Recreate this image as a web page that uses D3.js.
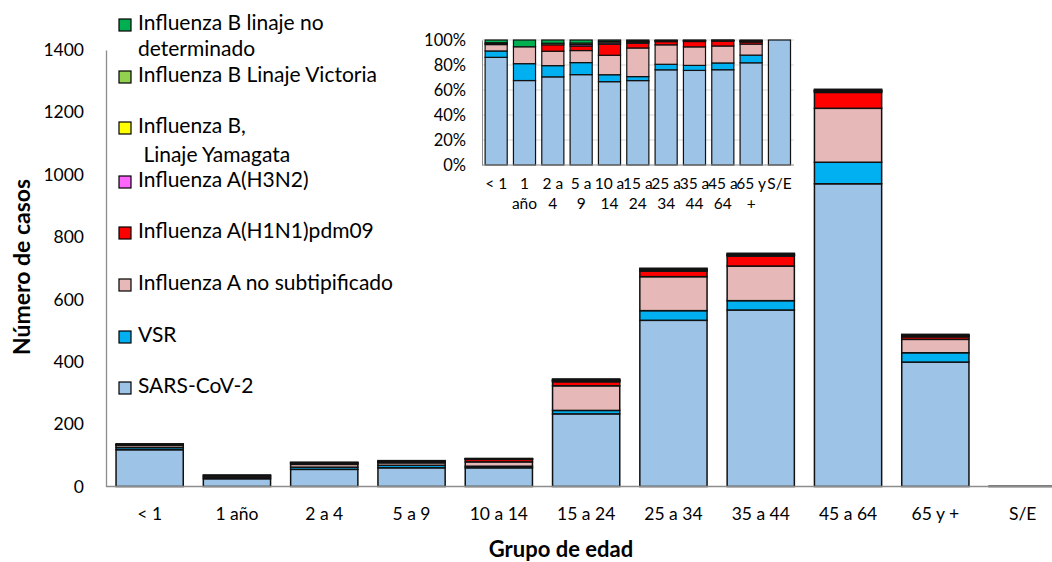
<!DOCTYPE html>
<html><head><meta charset="utf-8">
<script src="https://cdn.jsdelivr.net/npm/d3@7"></script>
<style>body{margin:0;background:#fff}svg{display:block}text{font-family:Lato,"Open Sans",sans-serif;fill:#000}</style>
</head><body><svg id="c" width="1052" height="562"></svg>
<script>
const categories = ["< 1","1 año","2 a 4","5 a 9","10 a 14","15 a 24","25 a 34","35 a 44","45 a 64","65 y +","S/E"];
const insetTickLabels = [["< 1"],["1","año"],["2 a","4"],["5 a","9"],["10 a","14"],["15 a","24"],["25 a","34"],["35 a","44"],["45 a","64"],["65 y","+"],["S/E"]];
const seriesKeys = ["sars","vsr","fluANS","h1n1","h3n2","bYam","bVic","bND"];
const seriesNames = ["SARS-CoV-2","VSR","Influenza A no subtipificado","Influenza A(H1N1)pdm09","Influenza A(H3N2)","Influenza B, Linaje Yamagata","Influenza B Linaje Victoria","Influenza B linaje no determinado"];
const seriesColors = ["#9DC3E6","#00B0F0","#E6B8B7","#FF0000","#FF66FF","#FFFF00","#92D050","#00B050"];
const sars   = [118, 25, 55, 60, 60, 233, 533, 566, 971, 399, 1];
const vsr    = [7, 5, 7, 8, 5, 11, 31, 30, 69, 30, 0];
const fluANS = [7, 5, 9, 8, 14, 79, 109, 111, 173, 43, 0];
const h1n1   = [0, 0, 4, 3, 8, 13, 18, 32, 51, 8, 0];
const h3n2   = [1, 0, 0, 1, 1, 3, 3, 3, 3, 2, 0];
const bYam   = [0, 0, 0, 0, 0, 1, 1, 1, 2, 1, 0];
const bVic   = [1, 0, 1, 1, 1, 2, 2, 2, 2, 2, 0];
const bND    = [3, 2, 2, 2, 1, 3, 3, 3, 3, 3, 0];
const yTicks = [0,200,400,600,800,1000,1200,1400];
const insetTicks = [0,0.2,0.4,0.6,0.8,1];
const legendLines = [
  {key:"bND", lines:["Influenza B linaje no","determinado"]},
  {key:"bVic", lines:["Influenza B Linaje Victoria"]},
  {key:"bYam", lines:["Influenza B,"," Linaje Yamagata"]},
  {key:"h3n2", lines:["Influenza A(H3N2)"]},
  {key:"h1n1", lines:["Influenza A(H1N1)pdm09"]},
  {key:"fluANS", lines:["Influenza A no subtipificado"]},
  {key:"vsr", lines:["VSR"]},
  {key:"sars", lines:["SARS-CoV-2"]}
];

const valuesByKey = {sars, vsr, fluANS, h1n1, h3n2, bYam, bVic, bND};
const rows = categories.map((c,i)=>{const r={cat:c}; seriesKeys.forEach(k=>r[k]=valuesByKey[k][i]); return r;});
const color = d3.scaleOrdinal().domain(seriesKeys).range(seriesColors);

const svg = d3.select("#c");

// ---- Main chart ----
const x = d3.scaleBand().domain(categories).range([106, 106+11*87.3]).paddingInner(0.23).paddingOuter(0.115);
const y = d3.scaleLinear().domain([0,1400]).range([486.5, 50]);
const stack = d3.stack().keys(seriesKeys)(rows);

const main = svg.append("g");
main.selectAll("g.s").data(stack).join("g").attr("fill", d=>color(d.key))
  .selectAll("rect").data(d=>d).join("rect")
  .attr("x", d=>x(d.data.cat)).attr("width", x.bandwidth())
  .attr("y", d=>y(d[1])).attr("height", d=>Math.max(0,y(d[0])-y(d[1])))
  .attr("stroke","#111").attr("stroke-width",1.5);

const yAxis = main.append("g").attr("transform","translate(106,0)")
  .call(d3.axisLeft(y).tickValues(yTicks).tickSize(0).tickPadding(22).tickFormat(d3.format("d")));
yAxis.select(".domain").attr("stroke","#8c8c8c").attr("stroke-width",1.3);
yAxis.selectAll("text").attr("font-size",17.5).attr("font-family","Lato");

const xAxis = main.append("g").attr("transform","translate(0,486.5)")
  .call(d3.axisBottom(x).tickSize(0).tickPadding(21));
xAxis.select(".domain").attr("d","M106,0H1052").attr("stroke","#8c8c8c").attr("stroke-width",1.3);
xAxis.selectAll("text").attr("font-size",17.5).attr("font-family","Lato");

svg.append("text").attr("transform","translate(24,267) rotate(-90)").attr("text-anchor","middle")
  .attr("dominant-baseline","middle").attr("font-weight","bold").attr("font-size",23).text("Número de casos");
svg.append("text").attr("x",561).attr("y",551).attr("text-anchor","middle")
  .attr("dominant-baseline","middle").attr("font-weight","bold").attr("font-size",22).text("Grupo de edad");

// ---- Legend ----
const legendY = [25,77,128,182,233,285,337,388];
const lg = svg.append("g");
legendLines.forEach((e,i)=>{
  const g = lg.append("g").attr("transform",`translate(0,${legendY[i]})`);
  g.append("rect").attr("x",119).attr("y",-6).attr("width",12).attr("height",12)
    .attr("fill",color(e.key)).attr("stroke","#000").attr("stroke-width",1.2);
  e.lines.forEach((t,j)=>{
    g.append("text").attr("x",138).attr("y", j*(i===0?26:29)).attr("dominant-baseline","middle")
      .attr("font-size",21).style("white-space","pre").text(t);
  });
});

// ---- Inset (100% stacked) ----
const ix = d3.scaleBand().domain(categories).range([482, 482+11*28.33]).paddingInner(0.22).paddingOuter(0.11);
const iy = d3.scaleLinear().domain([0,1]).range([165, 40]);
const istack = d3.stack().keys(seriesKeys).offset(d3.stackOffsetExpand)(rows);
const inset = svg.append("g");
inset.append("g").selectAll("line").data(insetTicks.slice(1)).join("line")
  .attr("x1",482).attr("x2",794).attr("y1",d=>iy(d)).attr("y2",d=>iy(d))
  .attr("stroke","#d9d9d9").attr("stroke-width",1);
inset.selectAll("g.s").data(istack).join("g").attr("fill", d=>color(d.key))
  .selectAll("rect").data(d=>d).join("rect")
  .attr("x", d=>ix(d.data.cat)).attr("width", ix.bandwidth())
  .attr("y", d=>iy(d[1])).attr("height", d=>Math.max(0,iy(d[0])-iy(d[1])))
  .attr("stroke","#111").attr("stroke-width",1.2);
const iyAxis = inset.append("g").attr("transform","translate(482,0)")
  .call(d3.axisLeft(iy).tickValues(insetTicks).tickSize(0).tickPadding(16).tickFormat(d3.format(".0%")));
iyAxis.select(".domain").attr("stroke","#8c8c8c");
iyAxis.selectAll("text").attr("font-size",16.5).attr("font-family","Lato");
const ixAxis = inset.append("g").attr("transform","translate(0,165)")
  .call(d3.axisBottom(ix).tickSize(0).tickFormat(()=>""));
ixAxis.select(".domain").attr("d","M482,0H794").attr("stroke","#8c8c8c");
ixAxis.selectAll(".tick").each(function(d,i){
  const t = d3.select(this);
  insetTickLabels[i].forEach((s,j)=>{
    t.append("text").attr("y", 20 + j*20).attr("text-anchor","middle").attr("dominant-baseline","middle")
      .attr("font-size",15.5).attr("fill","#000").text(s);
  });
});
</script></body></html>
